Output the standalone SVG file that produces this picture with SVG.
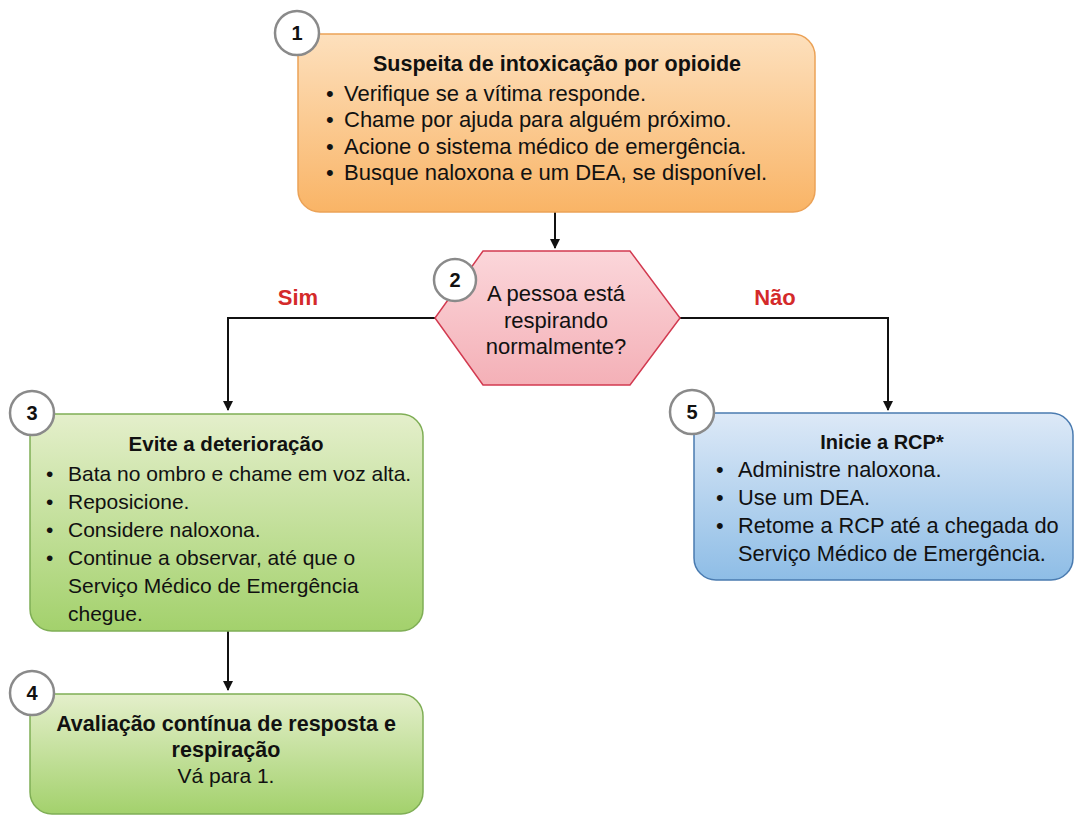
<svg xmlns="http://www.w3.org/2000/svg" width="1075" height="816" viewBox="0 0 1075 816">
<defs>
<linearGradient id="gOrange" x1="0" y1="0" x2="0" y2="1"><stop offset="0" stop-color="#fde0bd"/><stop offset="1" stop-color="#f9b466"/></linearGradient>
<linearGradient id="gPink" x1="0" y1="0" x2="0" y2="1"><stop offset="0" stop-color="#fbd6da"/><stop offset="1" stop-color="#f4b0b7"/></linearGradient>
<linearGradient id="gGreen" x1="0" y1="0" x2="0" y2="1"><stop offset="0" stop-color="#e4efcb"/><stop offset="1" stop-color="#a3d16c"/></linearGradient>
<linearGradient id="gBlue" x1="0" y1="0" x2="0" y2="1"><stop offset="0" stop-color="#dde9f7"/><stop offset="1" stop-color="#8ebde6"/></linearGradient>
<marker id="arr" markerWidth="10" markerHeight="10" refX="9" refY="5" orient="auto" markerUnits="userSpaceOnUse"><path d="M0,0 L10,5 L0,10 z" fill="#111"/></marker>
</defs>
<style>
text{font-family:"Liberation Sans",Arial,sans-serif;fill:#111}
.t{font-weight:bold}
.c{text-anchor:middle}
.n1{font-size:22px}
.n3{font-size:21px}
.n5{font-size:21.8px}
.num{font-size:20px;font-weight:bold;text-anchor:middle}
.badge{fill:#fff;stroke:#8a8a8a;stroke-width:2.5}
.lbl{font-size:22px;font-weight:bold;fill:#d42a2a;text-anchor:middle}
.con{fill:none;stroke:#111;stroke-width:2}
</style>
<rect width="1075" height="816" fill="#fff"/>
<g id="connectors">
<path class="con" d="M555,212 V248" marker-end="url(#arr)"/>
<path class="con" d="M435,318 H228 V410" marker-end="url(#arr)"/>
<path class="con" d="M680,318 H888 V410" marker-end="url(#arr)"/>
<path class="con" d="M228,631 V690" marker-end="url(#arr)"/>
</g>
<g id="labels">
<text class="lbl" x="298" y="305">Sim</text>
<text class="lbl" x="775" y="305">Não</text>
</g>
<g id="node1">
<rect x="298" y="34" width="517" height="178" rx="22" fill="url(#gOrange)" stroke="#eba257" stroke-width="1.5"/>
<text class="t c" x="557" y="71" font-size="21.5">Suspeita de intoxicação por opioide</text>
<g class="n1">
<text x="326" y="101">•</text><text x="344" y="101">Verifique se a vítima responde.</text>
<text x="326" y="127">•</text><text x="344" y="127">Chame por ajuda para alguém próximo.</text>
<text x="326" y="154">•</text><text x="344" y="154">Acione o sistema médico de emergência.</text>
<text x="326" y="180">•</text><text x="344" y="180">Busque naloxona e um DEA, se disponível.</text>
</g>
<circle class="badge" cx="297" cy="33" r="22"/>
<text class="num" x="297" y="40">1</text>
</g>
<g id="node2">
<polygon points="483,251 630,251 680,318 630,385 483,385 435,318" fill="url(#gPink)" stroke="#d23a50" stroke-width="1.5"/>
<text class="c" x="556" y="301" font-size="22">A pessoa está</text>
<text class="c" x="556" y="328" font-size="22">respirando</text>
<text class="c" x="556" y="354" font-size="22">normalmente?</text>
<circle class="badge" cx="455" cy="280" r="21"/>
<text class="num" x="455" y="287">2</text>
</g>
<g id="node3">
<rect x="30" y="414" width="393" height="217" rx="22" fill="url(#gGreen)" stroke="#7fae55" stroke-width="1.5"/>
<text class="t c" x="226" y="451" font-size="20.5">Evite a deterioração</text>
<g class="n3">
<text x="46" y="481">•</text><text x="68" y="481">Bata no ombro e chame em voz alta.</text>
<text x="46" y="509">•</text><text x="68" y="509">Reposicione.</text>
<text x="46" y="537">•</text><text x="68" y="537">Considere naloxona.</text>
<text x="46" y="565">•</text><text x="68" y="565">Continue a observar, até que o</text>
<text x="68" y="593">Serviço Médico de Emergência</text>
<text x="68" y="621">chegue.</text>
</g>
<circle class="badge" cx="32" cy="413" r="22"/>
<text class="num" x="32" y="420">3</text>
</g>
<g id="node4">
<rect x="30" y="694" width="393" height="120" rx="22" fill="url(#gGreen)" stroke="#7fae55" stroke-width="1.5"/>
<text class="t c" x="226" y="731" font-size="21.5">Avaliação contínua de resposta e</text>
<text class="t c" x="226" y="757" font-size="21.5">respiração</text>
<text class="c" x="226" y="783" font-size="21">Vá para 1.</text>
<circle class="badge" cx="32" cy="693" r="22"/>
<text class="num" x="32" y="700">4</text>
</g>
<g id="node5">
<rect x="694" y="413" width="379" height="167" rx="22" fill="url(#gBlue)" stroke="#4a7bb0" stroke-width="1.5"/>
<text class="t c" x="882" y="449" font-size="20">Inicie a RCP*</text>
<g class="n5">
<text x="716" y="477">•</text><text x="738" y="477">Administre naloxona.</text>
<text x="716" y="505">•</text><text x="738" y="505">Use um DEA.</text>
<text x="716" y="533">•</text><text x="738" y="533">Retome a RCP até a chegada do</text>
<text x="738" y="561">Serviço Médico de Emergência.</text>
</g>
<circle class="badge" cx="692" cy="412" r="22"/>
<text class="num" x="692" y="419">5</text>
</g>
</svg>
